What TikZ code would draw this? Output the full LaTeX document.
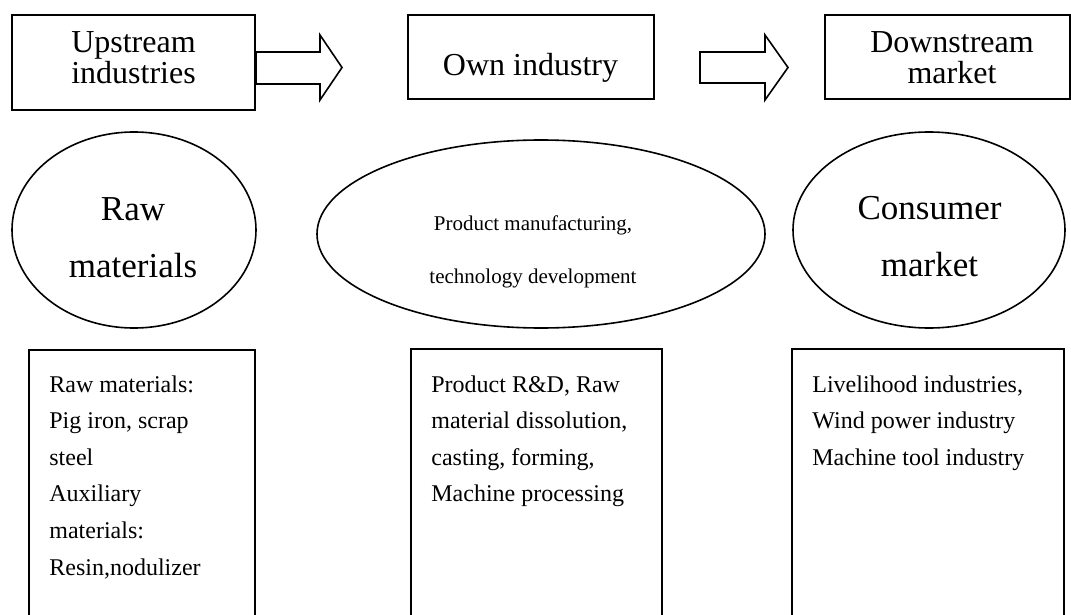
\documentclass[tikz,border=0pt]{standalone}
\usepackage{fontspec}
\setmainfont{Liberation Serif}
\usetikzlibrary{shapes.geometric}
\begin{document}
\begin{tikzpicture}[x=0.5pt,y=-0.5pt,
  topbox/.style={draw, line width=1pt, rectangle, inner sep=0pt},
  oval/.style={draw, line width=0.8pt, ellipse, inner sep=0pt},
  blockarrow/.style={draw, line width=0.8pt, line join=miter},
  listbox/.style={draw, line width=1pt},
  toptext/.style={inner sep=0pt, align=center, font=\fontsize{16}{15.5}\selectfont},
  bigtext/.style={inner sep=0pt, align=center, font=\fontsize{17.5}{28.5}\selectfont},
  midtext/.style={inner sep=0pt, align=center, font=\fontsize{10.5}{26.5}\selectfont},
  listtext/.style={inner sep=0pt, align=left, anchor=north west, font=\fontsize{12}{18.3}\selectfont}]
\useasboundingbox (0,0) rectangle (1071,615);

% top boxes
\node[topbox, minimum width=121.5pt, minimum height=47.5pt] (up) at (133.5,62.5) {};
\node[topbox, minimum width=123pt, minimum height=42pt] (own) at (531,57) {};
\node[topbox, minimum width=122.5pt, minimum height=42pt] (down) at (947.5,57) {};
\node[toptext, anchor=north] (upt) at (133.5,31) {Upstream\\industries};
\node[toptext, anchor=base] (ownt) at (530.5,76) {Own industry};
\node[toptext, anchor=north] (downt) at (952,31) {Downstream\\market};

% block arrows
\coordinate (a1) at (up.east |- 0,52);
\draw[blockarrow] (a1) -- (320,52) -- (320,35) -- (342,67.5) -- (320,100) -- (320,84) -- (up.east |- 0,84) -- cycle;
\coordinate (a2) at (700,52);
\draw[blockarrow] (a2) -- (765,52) -- (765,35) -- (788,67.5) -- (765,100) -- (765,83) -- (700,83) -- cycle;

% ellipses
\node[oval, minimum width=122pt, minimum height=98pt] (raw) at (134,230) {};
\node[oval, minimum width=224pt, minimum height=94pt] (prod) at (541,234) {};
\node[oval, minimum width=136pt, minimum height=98pt] (cons) at (929,230) {};
\node[bigtext, anchor=north] (rawt) at (133,197) {Raw\\materials};
\node[midtext, anchor=north] (prodt) at (533,215.5) {Product manufacturing,\\technology development};
\node[bigtext, anchor=north] (const) at (929.5,196) {Consumer\\market};

% lower boxes (open at the bottom edge)
\draw[listbox] (29,615) -- (29,350) -- (255,350) -- (255,615);
\draw[listbox] (411,615) -- (411,349) -- (662,349) -- (662,615);
\draw[listbox] (792,615) -- (792,349) -- (1064,349) -- (1064,615);
\node[listtext] (rawl) at (49,375) {Raw materials:\\Pig iron, scrap\\steel\\Auxiliary\\materials:\\Resin,nodulizer};
\node[listtext] (prodl) at (431,375) {Product R\&D, Raw\\material dissolution,\\casting, forming,\\Machine processing};
\node[listtext] (consl) at (812,375) {Livelihood industries,\\Wind power industry\\Machine tool industry};
\end{tikzpicture}
\end{document}
